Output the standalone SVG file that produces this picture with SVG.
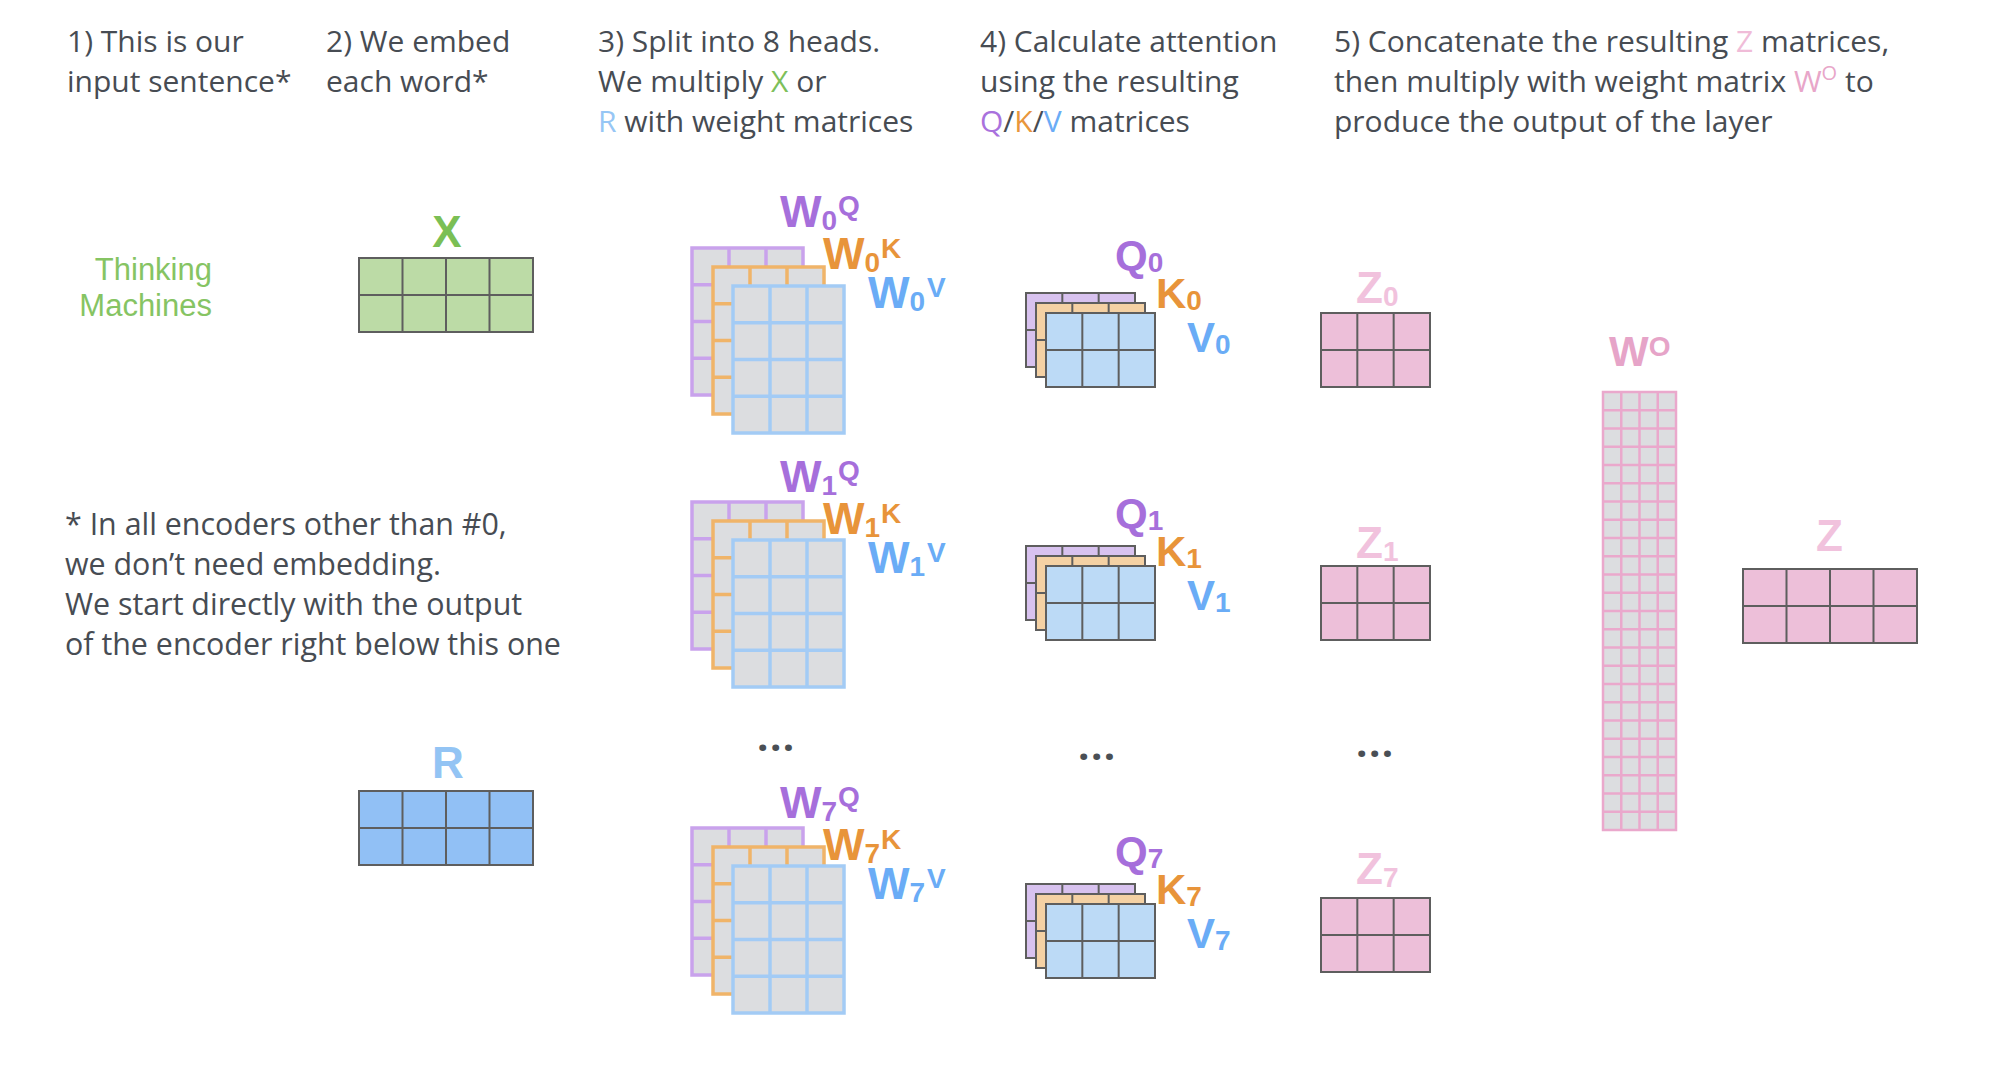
<svg xmlns="http://www.w3.org/2000/svg" xmlns:xlink="http://www.w3.org/1999/xlink" width="2004" height="1070" viewBox="0 0 2004 1070">
<style>
.hdr{font-family:"Open Sans","DejaVu Sans",sans-serif;font-size:30px;fill:#474c53}
.nt{font-size:30.4px}
.lbl{font-family:"Liberation Sans",Arial,sans-serif;font-weight:700;font-size:44px}
.lq{font-family:"Liberation Sans",Arial,sans-serif;font-weight:700;font-size:42px}
.sm{font-size:28px}
.dots{font-family:"Open Sans","DejaVu Sans",sans-serif;font-weight:700;font-size:40px;fill:#4a4f55;letter-spacing:1.5px}
.tm{font-family:"Liberation Sans",Arial,sans-serif;font-size:31px;fill:#86c463}
.pur{fill:#a66fdb}.org{fill:#e8943a}.blu{fill:#6aacf6}.pnk{fill:#f1c2dd}
</style>
<defs>
<g id="wm"><rect width="111" height="147" fill="#dcdde0" stroke="currentColor" stroke-width="3.5"/><path d="M37 0V147M74 0V147M0 36.75H111M0 73.5H111M0 110.25H111" fill="none" stroke="currentColor" stroke-width="3.5"/></g>
<g id="m32"><rect width="109" height="74" fill="currentColor" stroke="#5e5e5e" stroke-width="2"/><path d="M36.33 0V74M72.67 0V74M0 37H109" fill="none" stroke="#5e5e5e" stroke-width="2"/></g>
<g id="m42"><rect width="174" height="74" fill="currentColor" stroke="#5e5e5e" stroke-width="2"/><path d="M43.5 0V74M87 0V74M130.5 0V74M0 37H174" fill="none" stroke="#5e5e5e" stroke-width="2"/></g>
</defs>
<rect width="2004" height="1070" fill="#ffffff"/>
<g id="headers">
<text class="hdr" x="67" y="52">1) This is our</text>
<text class="hdr" x="67" y="92">input sentence*</text>
<text class="hdr" x="326" y="52">2) We embed</text>
<text class="hdr" x="326" y="92">each word*</text>
<text class="hdr" x="598" y="52">3) Split into 8 heads.</text>
<text class="hdr" x="598" y="92">We multiply <tspan fill="#7dc05a">X</tspan> or</text>
<text class="hdr" x="598" y="132"><tspan fill="#96c6f5">R</tspan> with weight matrices</text>
<text class="hdr" x="980" y="52">4) Calculate attention</text>
<text class="hdr" x="980" y="92">using the resulting</text>
<text class="hdr" x="980" y="132"><tspan fill="#a972dd">Q</tspan>/<tspan fill="#e8963c">K</tspan>/<tspan fill="#6aacf6">V</tspan> matrices</text>
<text class="hdr" x="1334" y="52">5) Concatenate the resulting <tspan fill="#f0bcd8">Z</tspan> matrices,</text>
<text class="hdr" x="1334" y="92">then multiply with weight matrix <tspan fill="#e8a6c9">W</tspan><tspan fill="#e8a6c9" font-size="20" dy="-12">O</tspan><tspan dy="12"> to</tspan></text>
<text class="hdr" x="1334" y="132">produce the output of the layer</text>
</g>
<g id="note">
<text class="hdr nt" x="65" y="535">* In all encoders other than #0,</text>
<text class="hdr nt" x="65" y="575">we don’t need embedding.</text>
<text class="hdr nt" x="65" y="615">We start directly with the output</text>
<text class="hdr nt" x="65" y="655">of the encoder right below this one</text>
</g>
<g id="input-sentence">
<text class="tm" x="212" y="280" text-anchor="end">Thinking</text>
<text class="tm" x="212" y="316" text-anchor="end">Machines</text>
</g>
<g id="X">
<text class="lbl" x="447" y="247" text-anchor="middle" fill="#7bbf55">X</text>
<use href="#m42" x="359" y="258" color="#bcdba6"/>
</g>
<g id="R">
<text class="lbl" x="448" y="778" text-anchor="middle" fill="#93c4f4">R</text>
<use href="#m42" x="359" y="791" color="#91c0f5"/>
</g>
<g id="W0">
<use href="#wm" x="692" y="248" color="#c9a2ec"/>
<use href="#wm" x="713" y="267" color="#f0b469"/>
<use href="#wm" x="733" y="286" color="#a3cbf5"/>
<text class="lbl pur" x="780" y="227">W<tspan class="sm" dy="3">0</tspan><tspan class="sm" dx="1" dy="-15">Q</tspan></text>
<text class="lbl org" x="823" y="269">W<tspan class="sm" dy="3">0</tspan><tspan class="sm" dx="1" dy="-14">K</tspan></text>
<text class="lbl blu" x="868" y="308">W<tspan class="sm" dy="3">0</tspan><tspan class="sm" dx="2" dy="-14">V</tspan></text>
</g>
<g id="W1">
<use href="#wm" x="692" y="502" color="#c9a2ec"/>
<use href="#wm" x="713" y="521" color="#f0b469"/>
<use href="#wm" x="733" y="540" color="#a3cbf5"/>
<text class="lbl pur" x="780" y="492">W<tspan class="sm" dy="3">1</tspan><tspan class="sm" dx="1" dy="-15">Q</tspan></text>
<text class="lbl org" x="823" y="534">W<tspan class="sm" dy="3">1</tspan><tspan class="sm" dx="1" dy="-14">K</tspan></text>
<text class="lbl blu" x="868" y="573">W<tspan class="sm" dy="3">1</tspan><tspan class="sm" dx="2" dy="-14">V</tspan></text>
</g>
<g id="W7">
<use href="#wm" x="692" y="828" color="#c9a2ec"/>
<use href="#wm" x="713" y="847" color="#f0b469"/>
<use href="#wm" x="733" y="866" color="#a3cbf5"/>
<text class="lbl pur" x="780" y="818">W<tspan class="sm" dy="3">7</tspan><tspan class="sm" dx="1" dy="-15">Q</tspan></text>
<text class="lbl org" x="823" y="860">W<tspan class="sm" dy="3">7</tspan><tspan class="sm" dx="1" dy="-14">K</tspan></text>
<text class="lbl blu" x="868" y="899">W<tspan class="sm" dy="3">7</tspan><tspan class="sm" dx="2" dy="-14">V</tspan></text>
</g>
<g id="QKV0">
<use href="#m32" x="1026" y="293" color="#d8c2ef"/>
<use href="#m32" x="1036" y="303" color="#f4d1a4"/>
<use href="#m32" x="1046" y="313" color="#bcdaf6"/>
<text class="lq pur" x="1115" y="270">Q<tspan class="sm" dy="2">0</tspan></text>
<text class="lq org" x="1156" y="308">K<tspan class="sm" dy="2">0</tspan></text>
<text class="lq blu" x="1187" y="352">V<tspan class="sm" dy="2">0</tspan></text>
</g>
<g id="QKV1">
<use href="#m32" x="1026" y="546" color="#d8c2ef"/>
<use href="#m32" x="1036" y="556" color="#f4d1a4"/>
<use href="#m32" x="1046" y="566" color="#bcdaf6"/>
<text class="lq pur" x="1115" y="528">Q<tspan class="sm" dy="2">1</tspan></text>
<text class="lq org" x="1156" y="566">K<tspan class="sm" dy="2">1</tspan></text>
<text class="lq blu" x="1187" y="610">V<tspan class="sm" dy="2">1</tspan></text>
</g>
<g id="QKV7">
<use href="#m32" x="1026" y="884" color="#d8c2ef"/>
<use href="#m32" x="1036" y="894" color="#f4d1a4"/>
<use href="#m32" x="1046" y="904" color="#bcdaf6"/>
<text class="lq pur" x="1115" y="866">Q<tspan class="sm" dy="2">7</tspan></text>
<text class="lq org" x="1156" y="904">K<tspan class="sm" dy="2">7</tspan></text>
<text class="lq blu" x="1187" y="948">V<tspan class="sm" dy="2">7</tspan></text>
</g>
<g id="Z0">
<text class="lbl pnk" x="1356" y="303">Z<tspan class="sm" dy="3">0</tspan></text>
<use href="#m32" x="1321" y="313" color="#edbfd9"/>
</g>
<g id="Z1">
<text class="lbl pnk" x="1356" y="558">Z<tspan class="sm" dy="3">1</tspan></text>
<use href="#m32" x="1321" y="566" color="#edbfd9"/>
</g>
<g id="Z7">
<text class="lbl pnk" x="1356" y="884">Z<tspan class="sm" dy="3">7</tspan></text>
<use href="#m32" x="1321" y="898" color="#edbfd9"/>
</g>
<g id="ellipses">
<text class="dots" x="757" y="751">...</text>
<text class="dots" x="1078" y="760">...</text>
<text class="dots" x="1356" y="757">...</text>
</g>
<g id="WO">
<text class="lq" x="1609" y="366" fill="#e6a4c8">W<tspan class="sm" dy="-10">O</tspan></text>
<rect x="1603" y="392" width="73" height="438" fill="#dcdde0" stroke="#eaa8cc" stroke-width="2.5"/>
<path d="M1621.25 392V830M1639.5 392V830M1657.75 392V830M1603 410.25H1676M1603 428.5H1676M1603 446.75H1676M1603 465H1676M1603 483.25H1676M1603 501.5H1676M1603 519.75H1676M1603 538H1676M1603 556.25H1676M1603 574.5H1676M1603 592.75H1676M1603 611H1676M1603 629.25H1676M1603 647.5H1676M1603 665.75H1676M1603 684H1676M1603 702.25H1676M1603 720.5H1676M1603 738.75H1676M1603 757H1676M1603 775.25H1676M1603 793.5H1676M1603 811.75H1676" fill="none" stroke="#eaa8cc" stroke-width="2.5"/>
</g>
<g id="Z">
<text class="lbl pnk" x="1816" y="551">Z</text>
<use href="#m42" x="1743" y="569" color="#edbfd9"/>
</g>
<g id="connectors"></g>
</svg>
